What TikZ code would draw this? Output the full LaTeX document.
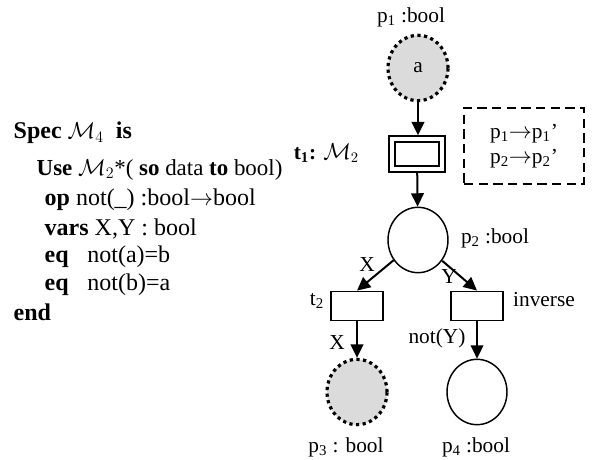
\documentclass[tikz,border=0pt]{standalone}
\usepackage{fontspec}
\setmainfont{Liberation Serif}
\usetikzlibrary{arrows.meta,shapes.geometric}

\begin{document}
\begin{tikzpicture}[x=0.75pt,y=-0.75pt,>={Triangle[length=10pt,width=9.5pt]},
                    line width=1.1pt,font=\fontsize{16}{19}\selectfont]
  \tikzstyle{place}=[ellipse,draw,minimum width=45pt,minimum height=49pt,inner sep=0pt]
  \tikzstyle{marked}=[place,fill=black!14,line width=2.4pt,dash pattern=on 2.4pt off 2.6pt]
  \tikzstyle{trans}=[rectangle,draw,minimum width=39pt,minimum height=22pt,inner sep=0pt]
  \tikzstyle{subnet}=[rectangle,draw,double,double distance=3pt,line width=1.5pt,
                      minimum width=38pt,minimum height=22pt,inner sep=0pt,outer sep=3pt]
  \tikzstyle{arc}=[->,line width=1.5pt]
  \tikzstyle{lbl}=[inner sep=1pt]
  \tikzstyle{spec}=[anchor=west,inner sep=0pt,font=\fontsize{18}{21}\selectfont]

  \useasboundingbox (0,0) rectangle (594,460);

  % algebraic specification
  \node[spec] (head) at (13,133) {\textbf{Spec} $\mathcal{M}_4$\ \ \textbf{is}};
  \node[spec,font=\fontsize{17.2}{20}\selectfont] (use) at (36,170)
        {\textbf{Use} $\mathcal{M}_2$*( \textbf{so} data \textbf{to} bool)};
  \node[spec] (op)   at (44,200) {\textbf{op} not(\_) :bool$\rightarrow$bool};
  \node[spec] (vars) at (44,229) {\textbf{vars} X,Y : bool};
  \node[spec] (eqa)  at (44,257) {\makebox[32pt][l]{\textbf{eq}}not(a)=b};
  \node[spec] (eqb)  at (44,285) {\makebox[32pt][l]{\textbf{eq}}not(b)=a};
  \node[spec] (fin)  at (13,312) {\textbf{end}};

  % places and transitions
  \node[marked] (p1)  at (418,68)  {a};
  \node[subnet] (t1)  at (417,154) {};
  \node[place]  (p2)  at (418,240) {};
  \node[trans]  (t2)  at (357,306) {};
  \node[trans]  (inv) at (477,306) {};
  \node[marked] (p3)  at (357,392) {};
  \node[place]  (p4)  at (477,392) {};

  % names and sorts
  \node[lbl] (p1l)  at (411,17)  {p\textsubscript{1} :bool};
  \node[lbl,anchor=east] (t1l) at (361,153) {\textbf{t\textsubscript{1}:} $\mathcal{M}_2$};
  \node[lbl] (p2l)  at (495,238) {p\textsubscript{2} :bool};
  \node[lbl] (t2l)  at (317,301) {t\textsubscript{2}};
  \node[lbl] (invl) at (544,300) {inverse};
  \node[lbl] (p3l)  at (346,447) {p\textsubscript{3} : bool};
  \node[lbl] (p4l)  at (476,447) {p\textsubscript{4} :bool};

  % renaming of places
  \node[draw,dash pattern=on 7pt off 4pt,minimum width=90pt,minimum height=57pt,
        align=left] (ren) at (524,146)
        {p\textsubscript{1}$\rightarrow$p\textsubscript{1}’\\p\textsubscript{2}$\rightarrow$p\textsubscript{2}’};

  % arcs
  \draw[arc] (p1) -- (p1 |- t1.north);
  \draw[arc] (t1) -- (p2);
  \draw[arc] (p2) -- (t2.north);
  \draw[arc] (p2) -- (inv.north);
  \draw[arc] (t2) -- (p3);
  \draw[arc] (inv) -- (p4);

  % arc inscriptions
  \node[lbl] (ax)  at (367,265) {X};
  \node[lbl] (ay)  at (449,277) {Y};
  \node[lbl] (ax2) at (337,343) {X};
  \node[lbl] (any) at (437,338) {not(Y)};
\end{tikzpicture}
\end{document}
